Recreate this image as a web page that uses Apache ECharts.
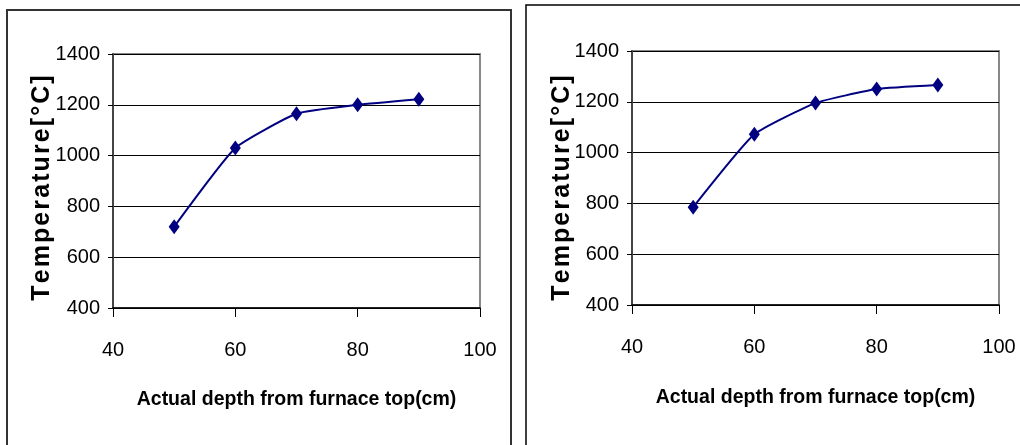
<!DOCTYPE html>
<html lang="en">

<head>
	<meta charset="UTF-8">
	<title>Furnace temperature</title>
	<script src="https://cdn.jsdelivr.net/npm/echarts@6/dist/echarts.min.js"></script>
	<style>
		html, body {
			margin: 0;
			padding: 0;
			background: #fff;
		}

		#main {
			width: 1020px;
			height: 445px;
		}
	</style>
</head>

<body>
	<div id="main"></div>

	<script>
		// depth (cm) along the x axis
		const depths = [50, 60, 70, 80, 90];
		// temperature readings, left panel and right panel
		const tempLeft = [720, 1030, 1165, 1200, 1222];
		const tempRight = [785, 1072, 1195, 1250, 1266];

		const xTicks = [40, 60, 80, 100];
		const yTicks = [400, 600, 800, 1000, 1200, 1400];

		const xTitle = 'Actual depth from furnace top(cm)';
		const yTitle = 'Temperature[°C]';

		const font = '"Liberation Sans", Arial, sans-serif';

		// hair spaces between letters, the original title is letter-spaced
		function spaced(s) {
			return s.split('').join('\u200A');
		}

		function xAxisFor(gridIndex, gap) {
			return {
				gridIndex: gridIndex,
				type: 'value',
				min: xTicks[0],
				max: xTicks[xTicks.length - 1],
				interval: xTicks[1] - xTicks[0],
				name: xTitle,
				nameLocation: 'middle',
				nameMoveOverlap: false,
				nameGap: gap,
				nameTextStyle: {
					fontFamily: font,
					fontWeight: 'bold',
					fontSize: 19.5,
					color: '#000'
				},
				axisLine: { onZero: false, lineStyle: { color: '#000', width: 1.5 } },
				axisTick: { show: true, length: 9, inside: false, lineStyle: { color: '#000', width: 1 } },
				axisLabel: {
					margin: 32,
					fontFamily: font,
					fontSize: 20,
					color: '#000'
				},
				splitLine: { show: false }
			};
		}

		function yAxisFor(gridIndex, gap, shift) {
			return {
				gridIndex: gridIndex,
				type: 'value',
				min: yTicks[0],
				max: yTicks[yTicks.length - 1],
				interval: yTicks[1] - yTicks[0],
				name: spaced(yTitle),
				nameLocation: 'middle',
				nameMoveOverlap: false,
				nameGap: gap,
				nameRotate: 90,
				nameTextStyle: {
					fontFamily: font,
					fontWeight: 'bold',
					fontSize: 25,
					color: '#000',
					padding: [0, shift, 0, 0]
				},
				axisLine: { show: true, onZero: false, lineStyle: { color: '#444', width: 2 } },
				axisTick: { show: true, length: 5, lineStyle: { color: '#000', width: 1 } },
				axisLabel: {
					margin: 13,
					fontFamily: font,
					fontSize: 20,
					color: '#000',
					formatter: v => String(v)
				},
				splitLine: { show: true, lineStyle: { color: '#000', width: 1 } }
			};
		}

		function seriesFor(index, values) {
			return {
				type: 'line',
				xAxisIndex: index,
				yAxisIndex: index,
				data: depths.map((d, i) => [d, values[i]]),
				smooth: 0.15,
				symbol: 'diamond',
				symbolSize: [11, 15],
				lineStyle: { color: '#000080', width: 2 },
				itemStyle: { color: '#000080' },
				animation: false
			};
		}

		const myChart = echarts.init(document.getElementById('main'), null, { renderer: 'canvas' });

		const option = {
			animation: false,
			backgroundColor: '#fff',
			grid: [
				{ left: 113, top: 54, width: 367, height: 254, show: true, borderColor: '#888', borderWidth: 2, backgroundColor: '#fff' },
				{ left: 632, top: 51, width: 367, height: 254, show: true, borderColor: '#888', borderWidth: 2, backgroundColor: '#fff' }
			],
			xAxis: [xAxisFor(0, 82), xAxisFor(1, 83)],
			yAxis: [yAxisFor(0, 58, 14), yAxisFor(1, 57, 20)],
			series: [seriesFor(0, tempLeft), seriesFor(1, tempRight)],
			graphic: [
				{
					type: 'rect',
					shape: { x: 7, y: 10, width: 504, height: 460 },
					style: { fill: null, stroke: '#333', lineWidth: 2 },
					z: 100
				},
				{
					type: 'rect',
					shape: { x: 526, y: 5, width: 520, height: 460 },
					style: { fill: null, stroke: '#000', lineWidth: 1.5 },
					z: 100
				}
			]
		};

		myChart.setOption(option);
	</script>
</body>

</html>
